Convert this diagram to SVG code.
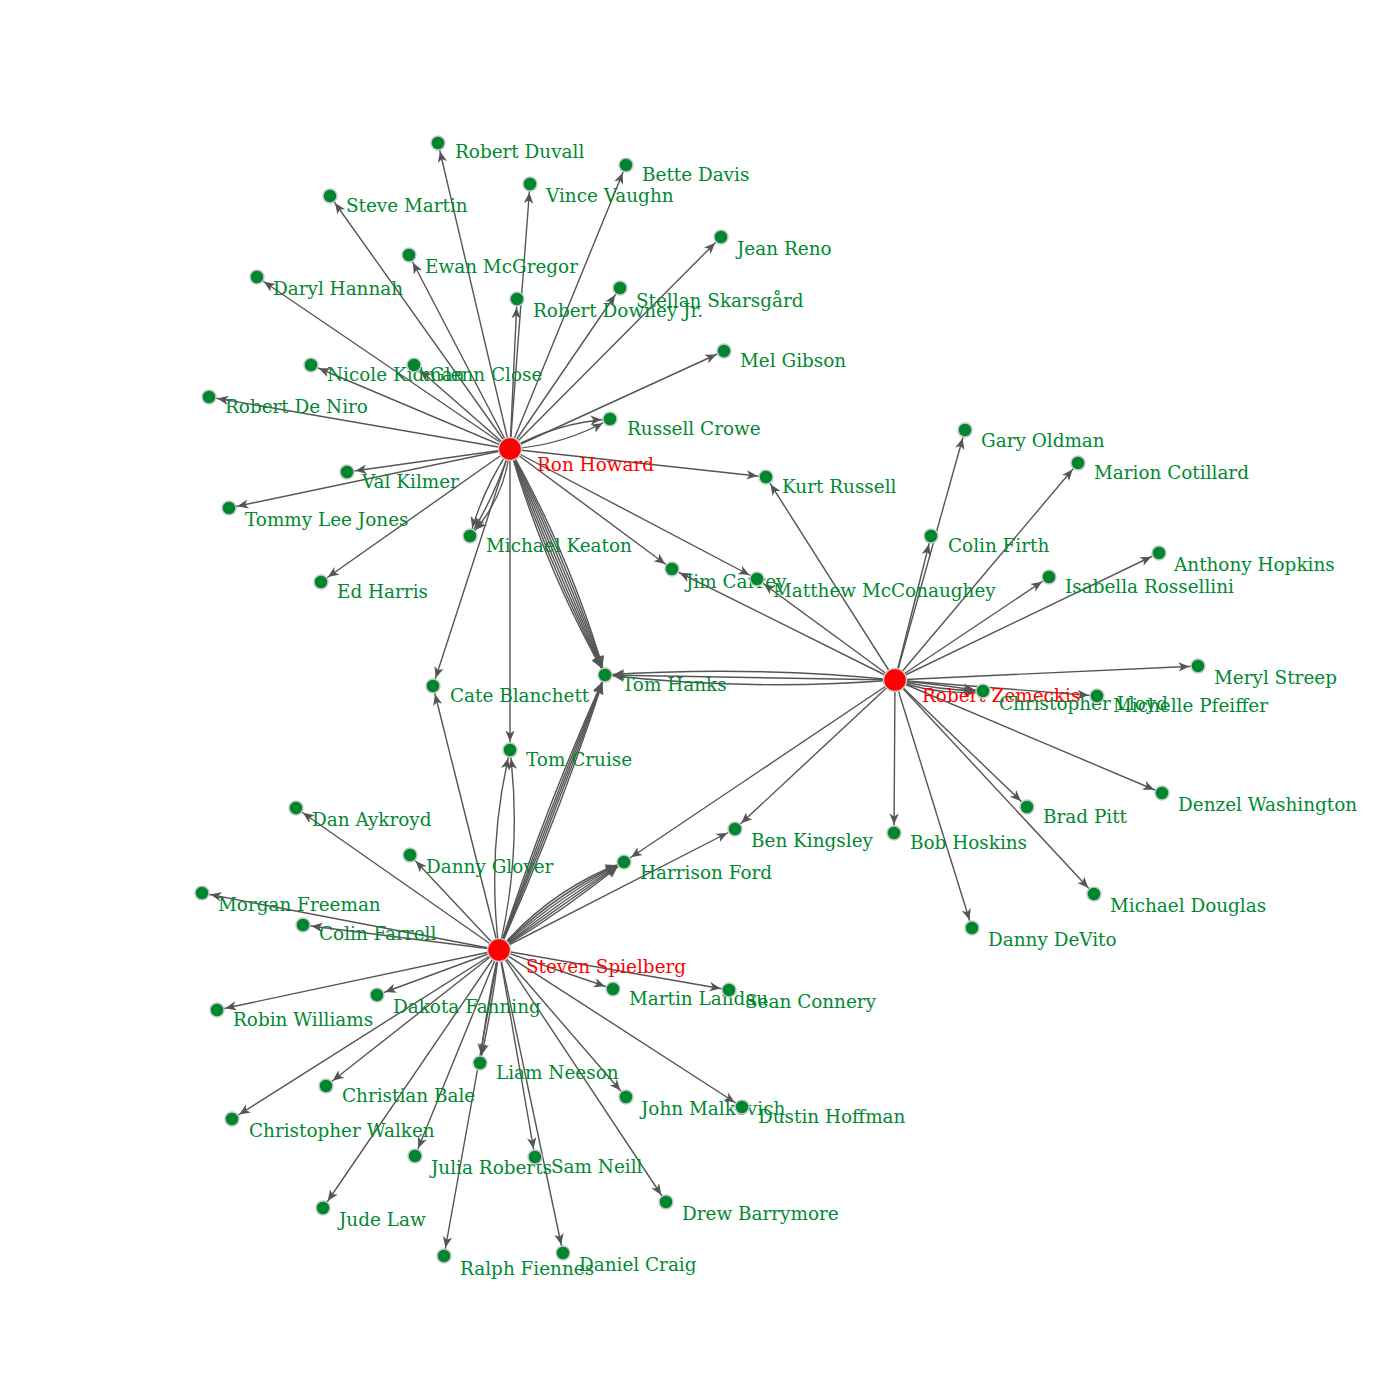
<svg xmlns="http://www.w3.org/2000/svg" width="1400" height="1400" viewBox="0 0 1400 1400">
<defs>
<marker id="arr" markerUnits="userSpaceOnUse" markerWidth="13" markerHeight="11" viewBox="0 0 13 11" refX="19.5" refY="5.5" orient="auto">
<path d="M0,0.8 L11,5.5 L0,10.2 L3,5.5 z" fill="#555"/>
</marker>
<style>
.e{stroke:#555;stroke-width:1.4;fill:none;marker-end:url(#arr)}
.n{fill:#00862f;stroke:#c8c8c8;stroke-width:1.5}
.h{fill:#ff0000;stroke:#c8c8c8;stroke-width:1.5}
.t{font-family:"DejaVu Serif","Liberation Serif",serif;font-size:18.4px;fill:#00892f}
.ht{font-family:"DejaVu Serif","Liberation Serif",serif;font-size:18.4px;fill:#ff0000}
</style>
</defs>
<rect width="1400" height="1400" fill="#fff"/>
<g id="edges">
<!-- Ron Howard -->
<line class="e" x1="510" y1="449" x2="438" y2="143"/>
<line class="e" x1="510" y1="449" x2="330" y2="196"/>
<line class="e" x1="510" y1="449" x2="530" y2="184"/>
<line class="e" x1="510" y1="449" x2="626" y2="165"/>
<line class="e" x1="510" y1="449" x2="721" y2="237"/>
<line class="e" x1="510" y1="449" x2="409" y2="255"/>
<line class="e" x1="510" y1="449" x2="257" y2="277"/>
<line class="e" x1="510" y1="449" x2="517" y2="299"/>
<line class="e" x1="510" y1="449" x2="620" y2="288"/>
<line class="e" x1="510" y1="449" x2="724" y2="351"/>
<line class="e" x1="510" y1="449" x2="311" y2="365"/>
<line class="e" x1="510" y1="449" x2="414" y2="365"/>
<line class="e" x1="510" y1="449" x2="209" y2="397"/>
<line class="e" x1="510" y1="449" x2="766" y2="477"/>
<line class="e" x1="510" y1="449" x2="347" y2="472"/>
<line class="e" x1="510" y1="449" x2="229" y2="508"/>
<line class="e" x1="510" y1="449" x2="321" y2="582"/>
<line class="e" x1="510" y1="449" x2="672" y2="569"/>
<line class="e" x1="510" y1="449" x2="757" y2="579"/>
<line class="e" x1="510" y1="449" x2="433" y2="686"/>
<line class="e" x1="510" y1="449" x2="510" y2="750"/>
<path class="e" d="M510,449 Q563.4,445.5 610,419"/>
<path class="e" d="M510,449 Q556.6,422.5 610,419"/>
<path class="e" d="M510,449 Q482.7,489.2 470,536"/>
<path class="e" d="M510,449 Q495.4,495 470,536"/>
<path class="e" d="M510,449 Q504.5,499.2 470,536"/>
<path class="e" d="M510,449 Q570.4,556.6 605,675"/>
<path class="e" d="M510,449 Q566.3,558.3 605,675"/>
<path class="e" d="M510,449 Q561.9,560.1 605,675"/>
<path class="e" d="M510,449 Q557.5,562 605,675"/>
<path class="e" d="M510,449 Q553.1,563.9 605,675"/>
<path class="e" d="M510,449 Q548.7,565.7 605,675"/>
<path class="e" d="M510,449 Q544.6,567.4 605,675"/>
<!-- Robert Zemeckis -->
<line class="e" x1="895" y1="680" x2="766" y2="477"/>
<line class="e" x1="895" y1="680" x2="672" y2="569"/>
<line class="e" x1="895" y1="680" x2="757" y2="579"/>
<line class="e" x1="895" y1="680" x2="931" y2="536"/>
<line class="e" x1="895" y1="680" x2="965" y2="430"/>
<line class="e" x1="895" y1="680" x2="1078" y2="463"/>
<line class="e" x1="895" y1="680" x2="1049" y2="577"/>
<line class="e" x1="895" y1="680" x2="1159" y2="553"/>
<line class="e" x1="895" y1="680" x2="1198" y2="666"/>
<line class="e" x1="895" y1="680" x2="1097" y2="696"/>
<line class="e" x1="895" y1="680" x2="1162" y2="793"/>
<line class="e" x1="895" y1="680" x2="1027" y2="807"/>
<line class="e" x1="895" y1="680" x2="1094" y2="894"/>
<line class="e" x1="895" y1="680" x2="894" y2="833"/>
<line class="e" x1="895" y1="680" x2="972" y2="928"/>
<line class="e" x1="895" y1="680" x2="735" y2="829"/>
<line class="e" x1="895" y1="680" x2="624" y2="862"/>
<path class="e" d="M895,680 Q750.2,665.5 605,675"/>
<path class="e" d="M895,680 Q750,677.5 605,675"/>
<path class="e" d="M895,680 Q749.8,691.5 605,675"/>
<path class="e" d="M895,680 Q939,684.5 983,691"/>
<path class="e" d="M895,680 Q938.3,690.5 983,691"/>
<path class="e" d="M895,680 Q937.5,696.4 983,691"/>
<!-- Steven Spielberg -->
<line class="e" x1="499" y1="950" x2="296" y2="808"/>
<line class="e" x1="499" y1="950" x2="410" y2="855"/>
<line class="e" x1="499" y1="950" x2="202" y2="893"/>
<line class="e" x1="499" y1="950" x2="303" y2="925"/>
<line class="e" x1="499" y1="950" x2="217" y2="1010"/>
<line class="e" x1="499" y1="950" x2="377" y2="995"/>
<line class="e" x1="499" y1="950" x2="232" y2="1119"/>
<line class="e" x1="499" y1="950" x2="326" y2="1086"/>
<line class="e" x1="499" y1="950" x2="323" y2="1208"/>
<line class="e" x1="499" y1="950" x2="415" y2="1156"/>
<line class="e" x1="499" y1="950" x2="444" y2="1256"/>
<line class="e" x1="499" y1="950" x2="535" y2="1157"/>
<line class="e" x1="499" y1="950" x2="563" y2="1253"/>
<line class="e" x1="499" y1="950" x2="666" y2="1202"/>
<line class="e" x1="499" y1="950" x2="626" y2="1097"/>
<line class="e" x1="499" y1="950" x2="742" y2="1107"/>
<line class="e" x1="499" y1="950" x2="613" y2="989"/>
<line class="e" x1="499" y1="950" x2="729" y2="990"/>
<line class="e" x1="499" y1="950" x2="735" y2="829"/>
<line class="e" x1="499" y1="950" x2="433" y2="686"/>
<path class="e" d="M499,950 Q486.5,1006 480,1063"/>
<path class="e" d="M499,950 Q492.5,1007 480,1063"/>
<path class="e" d="M499,950 Q522.5,851 510,750"/>
<path class="e" d="M499,950 Q486.5,849 510,750"/>
<path class="e" d="M499,950 Q544.5,809.6 605,675"/>
<path class="e" d="M499,950 Q548.3,811.1 605,675"/>
<path class="e" d="M499,950 Q552,812.5 605,675"/>
<path class="e" d="M499,950 Q555.7,813.9 605,675"/>
<path class="e" d="M499,950 Q559.5,815.4 605,675"/>
<path class="e" d="M499,950 Q550,889.6 624,862"/>
<path class="e" d="M499,950 Q552.9,893.7 624,862"/>
<path class="e" d="M499,950 Q555.7,897.8 624,862"/>
<path class="e" d="M499,950 Q558.6,901.9 624,862"/>
<path class="e" d="M499,950 Q561.5,906 624,862"/>
<path class="e" d="M499,950 Q564.4,910.1 624,862"/>
</g>
<g id="node-ron-howard"><circle class="h" cx="510" cy="449" r="11.5"/><text class="ht" x="537" y="471">Ron Howard</text></g>
<g id="node-robert-zemeckis"><circle class="h" cx="895" cy="680" r="11.5"/><text class="ht" x="922" y="702">Robert Zemeckis</text></g>
<g id="node-steven-spielberg"><circle class="h" cx="499" cy="950" r="11.5"/><text class="ht" x="526" y="973">Steven Spielberg</text></g>
<g id="node-robert-duvall"><circle class="n" cx="438" cy="143" r="7"/><text class="t" x="455" y="158">Robert Duvall</text></g>
<g id="node-bette-davis"><circle class="n" cx="626" cy="165" r="7"/><text class="t" x="642" y="181">Bette Davis</text></g>
<g id="node-vince-vaughn"><circle class="n" cx="530" cy="184" r="7"/><text class="t" x="546" y="202">Vince Vaughn</text></g>
<g id="node-steve-martin"><circle class="n" cx="330" cy="196" r="7"/><text class="t" x="346" y="212">Steve Martin</text></g>
<g id="node-jean-reno"><circle class="n" cx="721" cy="237" r="7"/><text class="t" x="737" y="255">Jean Reno</text></g>
<g id="node-ewan-mcgregor"><circle class="n" cx="409" cy="255" r="7"/><text class="t" x="425" y="273">Ewan McGregor</text></g>
<g id="node-daryl-hannah"><circle class="n" cx="257" cy="277" r="7"/><text class="t" x="273" y="295">Daryl Hannah</text></g>
<g id="node-robert-downey-jr"><circle class="n" cx="517" cy="299" r="7"/><text class="t" x="533" y="317">Robert Downey Jr.</text></g>
<g id="node-stellan-skarsgard"><circle class="n" cx="620" cy="288" r="7"/><text class="t" x="636" y="307">Stellan Skarsgård</text></g>
<g id="node-mel-gibson"><circle class="n" cx="724" cy="351" r="7"/><text class="t" x="740" y="367">Mel Gibson</text></g>
<g id="node-nicole-kidman"><circle class="n" cx="311" cy="365" r="7"/><text class="t" x="327" y="381">Nicole Kidman</text></g>
<g id="node-glenn-close"><circle class="n" cx="414" cy="365" r="7"/><text class="t" x="430" y="381">Glenn Close</text></g>
<g id="node-robert-de-niro"><circle class="n" cx="209" cy="397" r="7"/><text class="t" x="225" y="413">Robert De Niro</text></g>
<g id="node-russell-crowe"><circle class="n" cx="610" cy="419" r="7"/><text class="t" x="627" y="435">Russell Crowe</text></g>
<g id="node-gary-oldman"><circle class="n" cx="965" cy="430" r="7"/><text class="t" x="981" y="447">Gary Oldman</text></g>
<g id="node-marion-cotillard"><circle class="n" cx="1078" cy="463" r="7"/><text class="t" x="1094" y="479">Marion Cotillard</text></g>
<g id="node-val-kilmer"><circle class="n" cx="347" cy="472" r="7"/><text class="t" x="362" y="488">Val Kilmer</text></g>
<g id="node-kurt-russell"><circle class="n" cx="766" cy="477" r="7"/><text class="t" x="782" y="493">Kurt Russell</text></g>
<g id="node-tommy-lee-jones"><circle class="n" cx="229" cy="508" r="7"/><text class="t" x="245" y="526">Tommy Lee Jones</text></g>
<g id="node-michael-keaton"><circle class="n" cx="470" cy="536" r="7"/><text class="t" x="486" y="552">Michael Keaton</text></g>
<g id="node-colin-firth"><circle class="n" cx="931" cy="536" r="7"/><text class="t" x="948" y="552">Colin Firth</text></g>
<g id="node-anthony-hopkins"><circle class="n" cx="1159" cy="553" r="7"/><text class="t" x="1174" y="571">Anthony Hopkins</text></g>
<g id="node-jim-carrey"><circle class="n" cx="672" cy="569" r="7"/><text class="t" x="686" y="588">Jim Carrey</text></g>
<g id="node-matthew-mcconaughey"><circle class="n" cx="757" cy="579" r="7"/><text class="t" x="773" y="597">Matthew McConaughey</text></g>
<g id="node-isabella-rossellini"><circle class="n" cx="1049" cy="577" r="7"/><text class="t" x="1065" y="593">Isabella Rossellini</text></g>
<g id="node-ed-harris"><circle class="n" cx="321" cy="582" r="7"/><text class="t" x="337" y="598">Ed Harris</text></g>
<g id="node-meryl-streep"><circle class="n" cx="1198" cy="666" r="7"/><text class="t" x="1214" y="684">Meryl Streep</text></g>
<g id="node-tom-hanks"><circle class="n" cx="605" cy="675" r="7"/><text class="t" x="622" y="691">Tom Hanks</text></g>
<g id="node-cate-blanchett"><circle class="n" cx="433" cy="686" r="7"/><text class="t" x="450" y="702">Cate Blanchett</text></g>
<g id="node-christopher-lloyd"><circle class="n" cx="983" cy="691" r="7"/><text class="t" x="999" y="710">Christopher Lloyd</text></g>
<g id="node-michelle-pfeiffer"><circle class="n" cx="1097" cy="696" r="7"/><text class="t" x="1113" y="712">Michelle Pfeiffer</text></g>
<g id="node-tom-cruise"><circle class="n" cx="510" cy="750" r="7"/><text class="t" x="526" y="766">Tom Cruise</text></g>
<g id="node-denzel-washington"><circle class="n" cx="1162" cy="793" r="7"/><text class="t" x="1178" y="811">Denzel Washington</text></g>
<g id="node-brad-pitt"><circle class="n" cx="1027" cy="807" r="7"/><text class="t" x="1043" y="823">Brad Pitt</text></g>
<g id="node-dan-aykroyd"><circle class="n" cx="296" cy="808" r="7"/><text class="t" x="312" y="826">Dan Aykroyd</text></g>
<g id="node-ben-kingsley"><circle class="n" cx="735" cy="829" r="7"/><text class="t" x="751" y="847">Ben Kingsley</text></g>
<g id="node-bob-hoskins"><circle class="n" cx="894" cy="833" r="7"/><text class="t" x="910" y="849">Bob Hoskins</text></g>
<g id="node-danny-glover"><circle class="n" cx="410" cy="855" r="7"/><text class="t" x="426" y="873">Danny Glover</text></g>
<g id="node-harrison-ford"><circle class="n" cx="624" cy="862" r="7"/><text class="t" x="640" y="879">Harrison Ford</text></g>
<g id="node-morgan-freeman"><circle class="n" cx="202" cy="893" r="7"/><text class="t" x="218" y="911">Morgan Freeman</text></g>
<g id="node-michael-douglas"><circle class="n" cx="1094" cy="894" r="7"/><text class="t" x="1110" y="912">Michael Douglas</text></g>
<g id="node-colin-farrell"><circle class="n" cx="303" cy="925" r="7"/><text class="t" x="319" y="940">Colin Farrell</text></g>
<g id="node-danny-devito"><circle class="n" cx="972" cy="928" r="7"/><text class="t" x="988" y="946">Danny DeVito</text></g>
<g id="node-martin-landau"><circle class="n" cx="613" cy="989" r="7"/><text class="t" x="629" y="1005">Martin Landau</text></g>
<g id="node-sean-connery"><circle class="n" cx="729" cy="990" r="7"/><text class="t" x="745" y="1008">Sean Connery</text></g>
<g id="node-dakota-fanning"><circle class="n" cx="377" cy="995" r="7"/><text class="t" x="393" y="1013">Dakota Fanning</text></g>
<g id="node-robin-williams"><circle class="n" cx="217" cy="1010" r="7"/><text class="t" x="233" y="1026">Robin Williams</text></g>
<g id="node-liam-neeson"><circle class="n" cx="480" cy="1063" r="7"/><text class="t" x="496" y="1079">Liam Neeson</text></g>
<g id="node-christian-bale"><circle class="n" cx="326" cy="1086" r="7"/><text class="t" x="342" y="1102">Christian Bale</text></g>
<g id="node-john-malkovich"><circle class="n" cx="626" cy="1097" r="7"/><text class="t" x="641" y="1115">John Malkovich</text></g>
<g id="node-dustin-hoffman"><circle class="n" cx="742" cy="1107" r="7"/><text class="t" x="758" y="1123">Dustin Hoffman</text></g>
<g id="node-christopher-walken"><circle class="n" cx="232" cy="1119" r="7"/><text class="t" x="249" y="1137">Christopher Walken</text></g>
<g id="node-julia-roberts"><circle class="n" cx="415" cy="1156" r="7"/><text class="t" x="431" y="1174">Julia Roberts</text></g>
<g id="node-sam-neill"><circle class="n" cx="535" cy="1157" r="7"/><text class="t" x="551" y="1173">Sam Neill</text></g>
<g id="node-drew-barrymore"><circle class="n" cx="666" cy="1202" r="7"/><text class="t" x="682" y="1220">Drew Barrymore</text></g>
<g id="node-jude-law"><circle class="n" cx="323" cy="1208" r="7"/><text class="t" x="339" y="1226">Jude Law</text></g>
<g id="node-daniel-craig"><circle class="n" cx="563" cy="1253" r="7"/><text class="t" x="579" y="1271">Daniel Craig</text></g>
<g id="node-ralph-fiennes"><circle class="n" cx="444" cy="1256" r="7"/><text class="t" x="460" y="1275">Ralph Fiennes</text></g>
</svg>
